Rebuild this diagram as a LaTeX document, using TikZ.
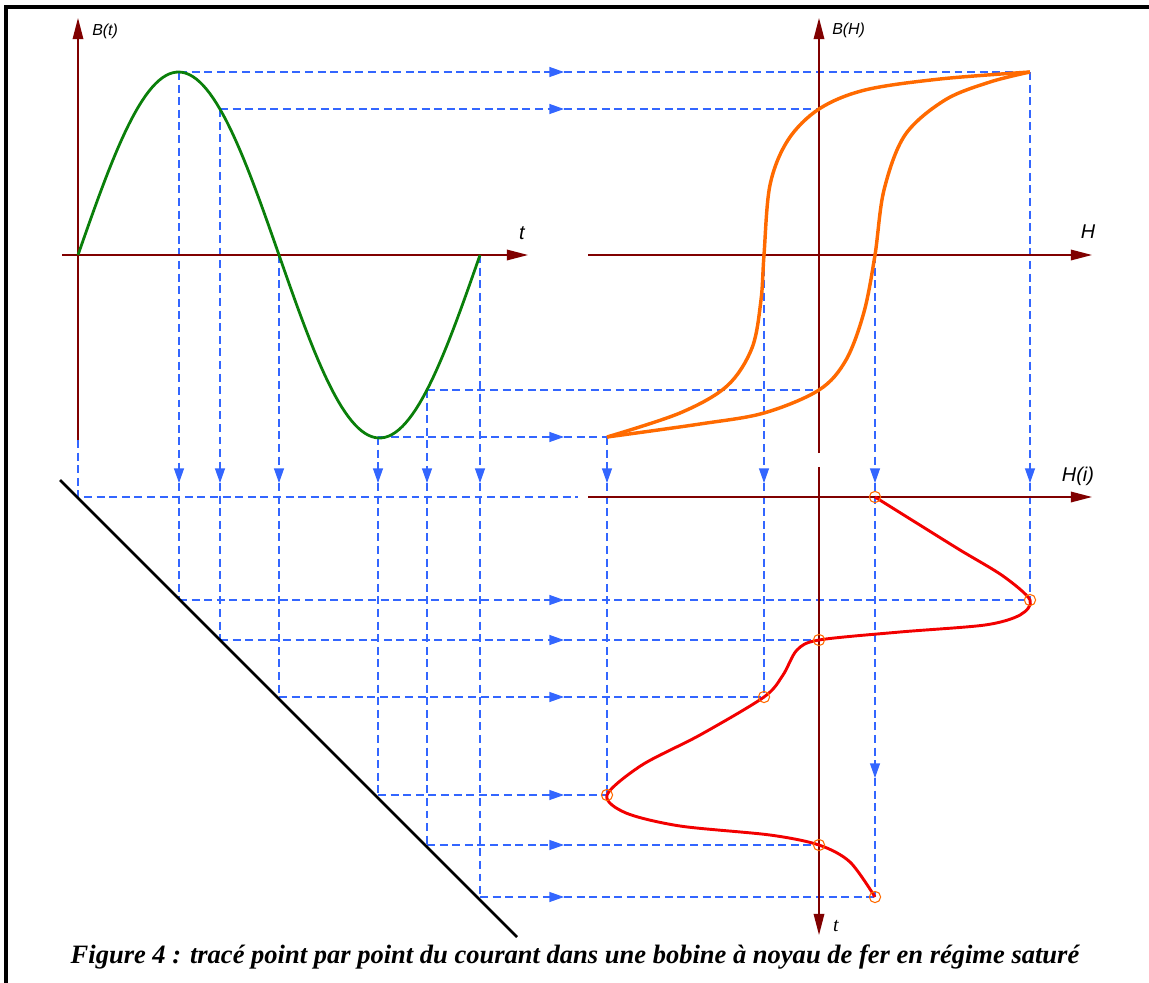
\documentclass[tikz,border=0pt]{standalone}
\usepackage{fontspec}
\setmainfont{Liberation Serif}
\setsansfont{Liberation Sans}
\usetikzlibrary{arrows.meta}
\usepackage{xcolor}
\definecolor{bhaxis}{HTML}{800000}
\definecolor{bhguide}{HTML}{3366FF}
\definecolor{bhgreen}{HTML}{0A7F0A}
\definecolor{bhorange}{HTML}{FF6A00}
\definecolor{bhred}{HTML}{F20000}

\begin{document}
\begin{tikzpicture}[x=0.0265cm, y=-0.0265cm,
    axis/.style={bhaxis, line width=1.1pt, -{Triangle[length=16pt, width=8pt]}},
    guide/.style={bhguide, line width=0.9pt, dash pattern=on 6pt off 3.5pt},
    guidearr/.style={guide, -{Triangle[length=11pt, width=7.5pt]}},
    lbl/.style={font=\sffamily\itshape\fontsize{15}{17}\selectfont, inner sep=0pt},
    smalllbl/.style={font=\sffamily\itshape\fontsize{12}{14}\selectfont, inner sep=0pt},
    pt/.style={circle, draw=bhorange, line width=0.8pt, minimum size=8.5pt, inner sep=0pt}
  ]
    \useasboundingbox (0,0) rectangle (1149,983);
    \draw[line width=2.3pt] (6,990) -- (6,7) -- (1160,7);

    % points on the sine wave, on the loop, on the diagonal, on the current
    \coordinate (o) at (78,255);
    \coordinate (s1) at (179,72);
    \coordinate (s2) at (220,109);
    \coordinate (s3) at (279,255);
    \coordinate (s4) at (378,437);
    \coordinate (s5) at (427,390);
    \coordinate (s6) at (480,255);
    \coordinate (h1) at (1030,72);
    \coordinate (h2) at (819,109);
    \coordinate (h3) at (764,255);
    \coordinate (h4) at (607,437);
    \coordinate (h5) at (819,390);
    \coordinate (h6) at (875,255);
    \coordinate (d0) at (78,497);
    \coordinate (d1) at (179,600);
    \coordinate (d2) at (220,640);
    \coordinate (d3) at (279,697);
    \coordinate (d4) at (378,795);
    \coordinate (d5) at (427,845);
    \coordinate (d6) at (480,897);
    \coordinate (r1) at (875,497);
    \coordinate (r2) at (1030,600);
    \coordinate (r3) at (819,640);
    \coordinate (r4) at (764,697);
    \coordinate (r5) at (607,795);
    \coordinate (r6) at (819,845);
    \coordinate (r7) at (875,897);
    \coordinate (ax) at (564,0);
    \coordinate (ay) at (0,483);
    \coordinate (ay2) at (0,778);

    % guides from B(t) to B(H)
    \draw[guidearr] (s1) -- (s1 -| ax);
    \draw[guide] (s1 -| ax) -- (h1);
    \draw[guidearr] (s2) -- (s2 -| ax);
    \draw[guide] (s2 -| ax) -- (h2);
    \draw[guidearr] (s4) -- (s4 -| ax);
    \draw[guide] (s4 -| ax) -- (h4);
    \draw[guide] (s5) -- (h5);

    % guides down to the diagonal
    \draw[guidearr] (s1) -- (s1 |- ay);
    \draw[guide] (s1 |- ay) -- (d1);
    \draw[guidearr] (s2) -- (s2 |- ay);
    \draw[guide] (s2 |- ay) -- (d2);
    \draw[guidearr] (s3) -- (s3 |- ay);
    \draw[guide] (s3 |- ay) -- (d3);
    \draw[guidearr] (s4) -- (s4 |- ay);
    \draw[guide] (s4 |- ay) -- (d4);
    \draw[guidearr] (s5) -- (s5 |- ay);
    \draw[guide] (s5 |- ay) -- (d5);
    \draw[guidearr] (s6) -- (s6 |- ay);
    \draw[guide] (s6 |- ay) -- (d6);
    \draw[guide] (78,440) -- (d0) -- (578,497);

    % guides down from the loop
    \draw[guidearr] (h1) -- (h1 |- ay);
    \draw[guide] (h1 |- ay) -- (r2);
    \draw[guidearr] (h3) -- (h3 |- ay);
    \draw[guide] (h3 |- ay) -- (r4);
    \draw[guidearr] (h4) -- (h4 |- ay);
    \draw[guide] (h4 |- ay) -- (r5);
    \draw[guidearr] (h6) -- (h6 |- ay);
    \draw[guidearr] (h6 |- ay) -- (h6 |- ay2);
    \draw[guide] (h6 |- ay2) -- (r7);

    % guides from the diagonal to i(t)
    \draw[guidearr] (d1) -- (d1 -| ax);
    \draw[guide] (d1 -| ax) -- (r2);
    \draw[guidearr] (d2) -- (d2 -| ax);
    \draw[guide] (d2 -| ax) -- (r3);
    \draw[guidearr] (d3) -- (d3 -| ax);
    \draw[guide] (d3 -| ax) -- (r4);
    \draw[guidearr] (d4) -- (d4 -| ax);
    \draw[guide] (d4 -| ax) -- (r5);
    \draw[guidearr] (d5) -- (d5 -| ax);
    \draw[guide] (d5 -| ax) -- (r6);
    \draw[guidearr] (d6) -- (d6 -| ax);
    \draw[guide] (d6 -| ax) -- (r7);

    % axes
    \draw[axis] (78,440) -- (78,18);
    \draw[axis] (62,255) -- (528,255);
    \draw[axis] (819,453) -- (819,18);
    \draw[axis] (588,255) -- (1092,255);
    \draw[axis] (588,497) -- (1092,497);
    \draw[axis] (819,467) -- (819,935);
    \draw[line width=2pt] (60,480) -- (517,937);

    \node[smalllbl, anchor=west] (lbt) at (92,31) {B(t)};
    \node[smalllbl, anchor=west] (lbh) at (832,30) {B(H)};
    \node[lbl] (lt) at (522,233) {t};
    \node[lbl] (lh) at (1088,232) {H};
    \node[lbl] (lhi) at (1078,476) {H(i)};
    \node[font=\itshape\fontsize{15}{17}\selectfont, inner sep=0pt] (lt2) at (836,926) {t};

    % curves
    \draw[bhgreen, line width=2.1pt] plot[domain=0:360, samples=120] ({78+1.1167*\x}, {255-183*sin(\x)});
    \draw[bhorange, line width=2.6pt] plot[smooth, tension=0.55] coordinates {(h4) (680,413) (727,386) (752,348) (761,300) (h3) (770,185) (788,140) (h2) (865,90) (940,79) (h1)};
    \draw[bhorange, line width=2.6pt] plot[smooth, tension=0.55] coordinates {(h4) (700,424) (764,413) (h5) (846,360) (864,312) (h6) (884,190) (905,135) (945,100) (990,82) (h1)};
    \draw[bhred, line width=2.2pt] plot[smooth, tension=0.5] coordinates {(r1) (915,522) (960,550) (1003,576) (r2) (1020,615) (985,625) (900,632) (r3) (797,650) (783,675) (r4) (700,735) (642,765) (r5) (626,813) (680,826) (770,835) (r6) (850,862) (r7)};

    \node[pt] (p1) at (r1) {};
    \node[pt] (p2) at (r2) {};
    \node[pt] (p3) at (r3) {};
    \node[pt] (p4) at (r4) {};
    \node[pt] (p5) at (r5) {};
    \node[pt] (p6) at (r6) {};
    \node[pt] (p7) at (r7) {};

    \node[font=\bfseries\itshape\fontsize{20}{22}\selectfont, inner sep=0pt] (cap) at (575,957)
      {Figure 4 : tracé point par point du courant dans une bobine à noyau de fer en régime saturé};
  \end{tikzpicture}
\end{document}
